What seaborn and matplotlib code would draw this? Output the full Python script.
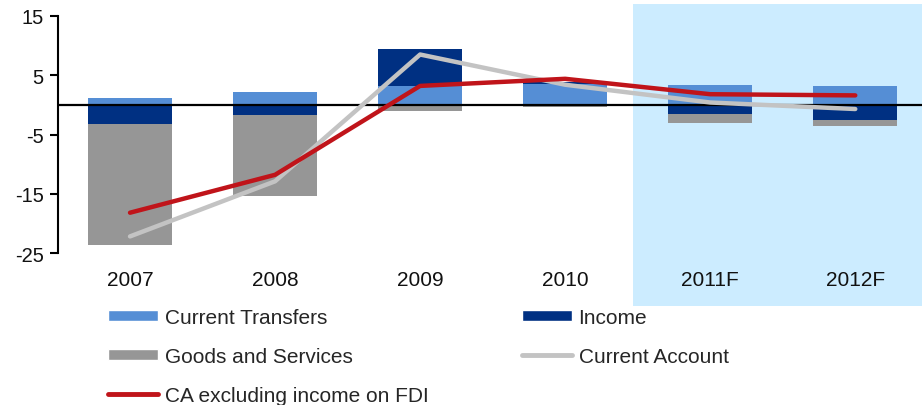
import numpy as np
import pandas as pd
import matplotlib
matplotlib.use("Agg")
import matplotlib.pyplot as plt
from matplotlib.patches import Rectangle, Patch
from matplotlib.lines import Line2D
import seaborn as sns

# data
years = ["2007", "2008", "2009", "2010", "2011F", "2012F"]
current_transfers = [1.2, 2.1, 3.2, 3.6, 3.4, 3.2]
income = [-3.3, -1.7, 6.3, 0.2, -1.6, -2.6]
goods_services = [-20.3, -13.6, -1.1, -0.4, -1.5, -1.0]
current_account = [-22.2, -12.9, 8.5, 3.4, 0.4, -0.7]
ca_ex_fdi = [-18.2, -11.8, 3.2, 4.4, 1.8, 1.6]

c_ct = "#558ED5"
c_inc = "#003082"
c_gs = "#969696"
c_ca = "#C3C3C3"
c_red = "#C0141A"
c_shade = "#CCECFF"

sns.set_style("white")
plt.rcParams["font.family"] = ["Liberation Sans", "DejaVu Sans"]
plt.rcParams["axes.unicode_minus"] = False

fig = plt.figure(figsize=(9.22, 4.06), dpi=100)
ax = fig.add_axes([57.5 / 922, 1 - 254 / 406, 1 - 57.5 / 922, (254 - 17) / 406])

x = np.arange(len(years))
width = 0.58

# stacked bars: positives go up from 0, negatives go down from 0
pos_base = np.zeros(len(years))
neg_base = np.zeros(len(years))
for vals, col in [(current_transfers, c_ct), (income, c_inc), (goods_services, c_gs)]:
    vals = np.array(vals)
    bottom = np.where(vals >= 0, pos_base, neg_base)
    ax.bar(x, vals, width, bottom=bottom, color=col, zorder=2, linewidth=0)
    pos_base = pos_base + np.clip(vals, 0, None)
    neg_base = neg_base + np.clip(vals, None, 0)

ax.axhline(0, color="black", lw=1.6, zorder=3)

lines = pd.DataFrame({"x": x, "ca": current_account, "red": ca_ex_fdi})
sns.lineplot(data=lines, x="x", y="ca", color=c_ca, lw=3.2, ax=ax, zorder=4)
sns.lineplot(data=lines, x="x", y="red", color=c_red, lw=3.2, ax=ax, zorder=5)

# forecast shading
ax.add_patch(Rectangle((3.468, -34), 3, 51, facecolor=c_shade, edgecolor="none",
                       zorder=0, clip_on=False))

ax.set_xlim(-0.5, 5.46)
ax.set_ylim(-25, 15)
ax.set_yticks([15, 5, -5, -15, -25])
ax.set_xticks(x)
ax.set_xticklabels(years)
ax.set_xlabel("")
ax.set_ylabel("")
ax.tick_params(axis="x", length=0, labelsize=15, pad=12, colors="#111111")
ax.tick_params(axis="y", left=True, length=6, width=1.5, direction="out",
               labelsize=14.5, pad=4, colors="black", labelcolor="#111111")
for s in ["top", "right", "bottom"]:
    ax.spines[s].set_visible(False)
ax.spines["left"].set_color("black")
ax.spines["left"].set_linewidth(1.5)
ax.patch.set_alpha(0)

handles = [
    Patch(facecolor=c_ct, label="Current Transfers"),
    Patch(facecolor=c_gs, label="Goods and Services"),
    Line2D([], [], color=c_red, lw=3.5, label="CA excluding income on FDI"),
    Patch(facecolor=c_inc, label="Income"),
    Line2D([], [], color=c_ca, lw=3.5, label="Current Account"),
]
fig.legend(handles=handles, ncol=2, loc="upper left", bbox_to_anchor=(108 / 922, 1 - 309 / 406),
           frameon=False, fontsize=15, handlelength=2.4, handleheight=0.45,
           handletextpad=0.34, columnspacing=4.45, labelspacing=0.95, borderpad=0,
           borderaxespad=0)

fig.savefig("out.png", dpi=100)
